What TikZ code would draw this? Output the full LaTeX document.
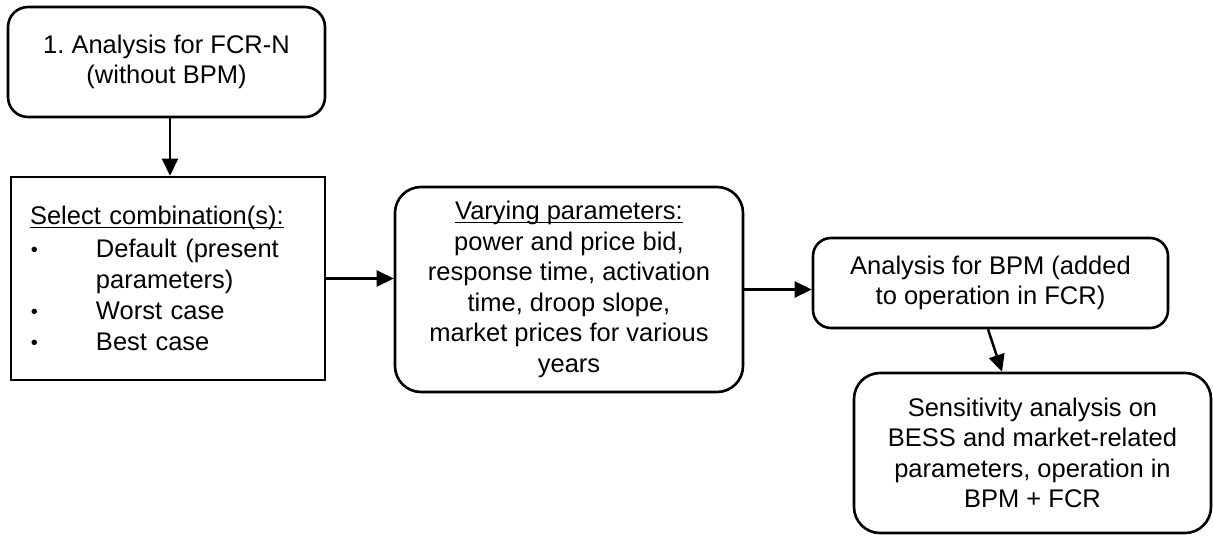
\documentclass[tikz,border=0pt]{standalone}
\usepackage{fontspec}
\setmainfont{Liberation Sans}
\usetikzlibrary{arrows.meta}
\frenchspacing
% underline drawn close to the baseline, ignoring descenders
\newcommand\ulx[1]{\setbox0\hbox{#1}\rlap{\rule[-3.5pt]{\wd0}{1.6pt}}\box0}
% small bullet followed by a fixed indent
\newcommand\bul{\makebox[66pt][l]{\hspace*{1pt}\raisebox{1pt}{\fontsize{20}{20}\selectfont\textbullet}}}
\begin{document}
\begin{tikzpicture}[x=1pt,y=-1pt,
  box/.style={draw, line width=2.6pt, font=\fontsize{25.5}{30.5}\selectfont, inner sep=0pt, align=center},
  rbox/.style={box, rounded corners=#1},
  flow/.style={line width=2.5pt, -{Triangle[length=17pt,width=16pt]}}]
\useasboundingbox (0,0) rectangle (1213,536);

\node[rbox=20pt, minimum width=317pt, minimum height=110pt] (b1) at (166.5,62)
  {1. Analysis for FCR-N\\(without BPM)};

\node[box, align=left, text width=276pt, minimum width=314pt, minimum height=203pt,
      font=\fontsize{25.5}{31}\selectfont] (b2) at (168,278.5)
  {\ulx{Select combination(s):}\\[2pt]
   \bul Default (present\\
   \hspace*{66pt}parameters)\\
   \bul Worst case\\
   \bul Best case};

\node[rbox=26pt, minimum width=348pt, minimum height=205pt] (b3) at (569,289.5)
  {\ulx{Varying parameters:}\\power and price bid,\\response time, activation\\time, droop slope,\\market prices for various\\years};

\node[rbox=18pt, minimum width=355pt, minimum height=90pt] (b4) at (990.5,283)
  {Analysis for BPM (added\\to operation in FCR)};

\node[rbox=26pt, minimum width=357pt, minimum height=160pt] (b5) at (1032.5,453)
  {Sensitivity analysis on\\BESS and market-related\\parameters, operation in\\BPM + FCR};

\draw[flow] ([xshift=3.5pt]b1.south) -- ([xshift=3.5pt]b1.south |- b2.north);
\draw[flow] (b2.east) -- (b2.east -| b3.west);
\draw[flow] (b3.east) -- (b3.east -| b4.west);
\draw[flow] ([xshift=-2.5pt]b4.south) -- ([xshift=-30.5pt]b5.north);
\end{tikzpicture}
\end{document}
